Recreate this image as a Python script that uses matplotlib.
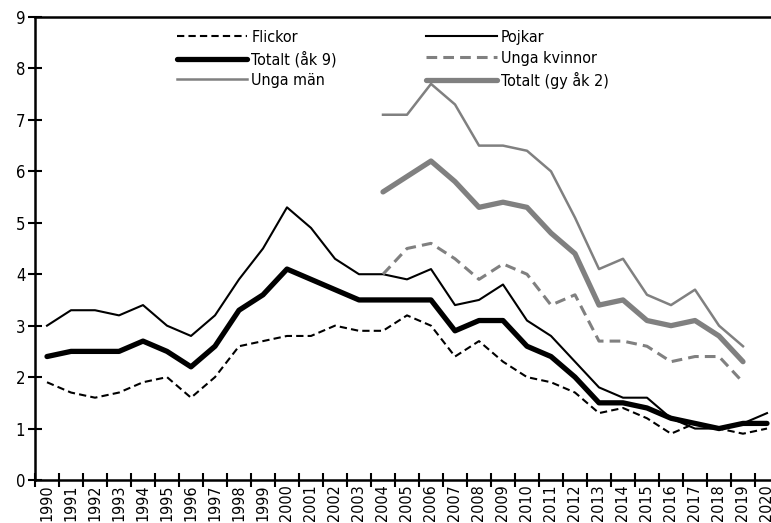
import matplotlib.pyplot as plt
import numpy as np

years = [str(y) for y in range(1990, 2021)]
years_gy = [str(y) for y in range(2004, 2020)]

flickor = [1.9, 1.7, 1.6, 1.7, 1.9, 2.0, 1.6, 2.0, 2.6, 2.7, 2.8, 2.8, 3.0, 2.9, 2.9, 3.2,
           3.0, 2.4, 2.7, 2.3, 2.0, 1.9, 1.7, 1.3, 1.4, 1.2, 0.9, 1.1, 1.0, 0.9, 1.0]
pojkar = [3.0, 3.3, 3.3, 3.2, 3.4, 3.0, 2.8, 3.2, 3.9, 4.5, 5.3, 4.9, 4.3, 4.0, 4.0, 3.9,
          4.1, 3.4, 3.5, 3.8, 3.1, 2.8, 2.3, 1.8, 1.6, 1.6, 1.2, 1.0, 1.0, 1.1, 1.3]
totalt_ak9 = [2.4, 2.5, 2.5, 2.5, 2.7, 2.5, 2.2, 2.6, 3.3, 3.6, 4.1, 3.9, 3.7, 3.5, 3.5, 3.5,
              3.5, 2.9, 3.1, 3.1, 2.6, 2.4, 2.0, 1.5, 1.5, 1.4, 1.2, 1.1, 1.0, 1.1, 1.1]
unga_kvinnor = [4.0, 4.5, 4.6, 4.3, 3.9, 4.2, 4.0, 3.4, 3.6, 2.7, 2.7, 2.6, 2.3, 2.4, 2.4, 1.9]
unga_man = [7.1, 7.1, 7.7, 7.3, 6.5, 6.5, 6.4, 6.0, 5.1, 4.1, 4.3, 3.6, 3.4, 3.7, 3.0, 2.6]
totalt_gy = [5.6, 5.9, 6.2, 5.8, 5.3, 5.4, 5.3, 4.8, 4.4, 3.4, 3.5, 3.1, 3.0, 3.1, 2.8, 2.3]

plt.rcParams['font.family'] = ['DejaVu Sans']
plt.rcParams['font.stretch'] = 'condensed'
grey = '#808080'

fig = plt.figure(figsize=(7.71, 5.23), dpi=100)
ax = fig.add_axes([35 / 771, 43 / 523, 744 / 771, 463 / 523])

x = np.arange(len(years))
xg = np.arange(len(years_gy)) + years.index(years_gy[0])

l1, = ax.plot(x, flickor, color='black', lw=1.5, ls=(0, (3.5, 2)), label='Flickor')
l2, = ax.plot(x, pojkar, color='black', lw=1.5, label='Pojkar')
l3, = ax.plot(x, totalt_ak9, color='black', lw=3.8, solid_capstyle='round',
              label='Totalt (åk 9)')
l4, = ax.plot(xg, unga_kvinnor, color=grey, lw=2.2, ls=(0, (3.5, 2)), label='Unga kvinnor')
l5, = ax.plot(xg, unga_man, color=grey, lw=1.8, label='Unga män')
l6, = ax.plot(xg, totalt_gy, color=grey, lw=3.8, solid_capstyle='round',
              label='Totalt (gy åk 2)')

ax.set_xlim(-0.5, len(years) - 0.5)
ax.set_ylim(0, 9)
ax.set_yticks(range(0, 10))
ax.set_xticks(np.arange(len(years) + 1) - 0.5)
ax.set_xticklabels([])
ax.set_xticks(x, minor=True)
ax.set_xticklabels(years, minor=True, rotation=90)
ax.tick_params(axis='x', which='minor', length=0, labelsize=11.5, pad=3)
ax.tick_params(axis='x', which='major', direction='inout', length=10, width=1.5)
ax.tick_params(axis='y', direction='inout', length=10, width=1.5, labelsize=12, pad=2)

for s in ax.spines.values():
    s.set_linewidth(1.8)

ax.legend(handles=[l1, l3, l5, l2, l4, l6], ncol=2, frameon=False,
          loc='upper left', bbox_to_anchor=(0.176, 0.996), handlelength=4.4,
          handletextpad=0.25, columnspacing=5.6, labelspacing=0.36, fontsize=11.5,
          borderaxespad=0.3)

fig.savefig('out.png', dpi=100)
